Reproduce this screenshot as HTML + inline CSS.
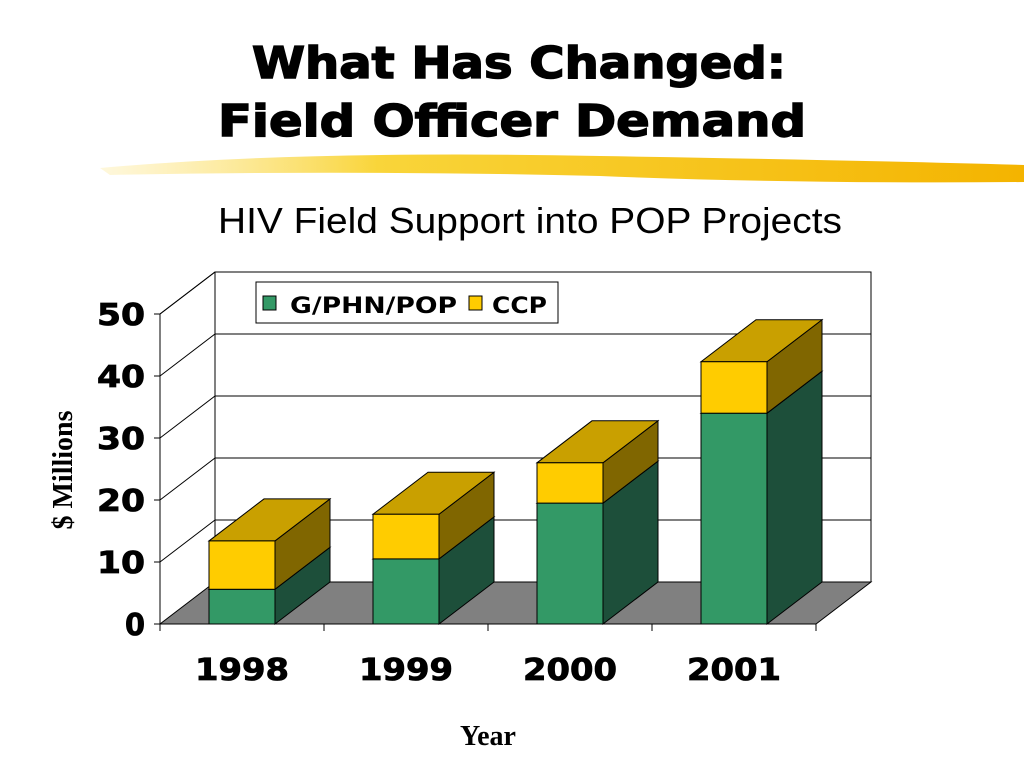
<!DOCTYPE html>
<html><head><meta charset="utf-8"><style>
body{margin:0;width:1024px;height:768px;background:#fff;overflow:hidden;font-family:"Liberation Sans",sans-serif}
</style></head><body>
<svg width="1024" height="768">
<defs><linearGradient id="hl" x1="0" x2="1"><stop offset="0" stop-color="#fde68a" stop-opacity="0.3"/><stop offset="0.3" stop-color="#f9d53a"/><stop offset="1" stop-color="#f4b400"/></linearGradient></defs>
<text x="252" y="78" textLength="534" lengthAdjust="spacingAndGlyphs" font-family="DejaVu Sans" font-weight="bold" font-size="44" stroke="#000" stroke-width="1.5">What Has Changed:</text>
<text x="218" y="136" textLength="588" lengthAdjust="spacingAndGlyphs" font-family="DejaVu Sans" font-weight="bold" font-size="44" stroke="#000" stroke-width="1.5">Field Officer Demand</text>
<path d="M100 168 Q300 150 600 156 Q850 160 1024 165 L1024 182 Q800 184 600 176 Q350 170 110 175 Z" fill="url(#hl)"/>
<text x="218" y="233" textLength="624" lengthAdjust="spacingAndGlyphs" font-size="36">HIV Field Support into POP Projects</text>
<g id="plot"></g>
<text transform="translate(72,470) rotate(-90)" text-anchor="middle" font-family="Liberation Serif" font-weight="bold" font-size="28">$ Millions</text>
<text x="488" y="745" text-anchor="middle" font-family="Liberation Serif" font-weight="bold" font-size="28">Year</text>
<g>
<rect x="256" y="282" width="302" height="41" fill="#fff" stroke="#000"/>
<rect x="263" y="296" width="13" height="14" fill="#339966" stroke="#000"/>
<text x="290" y="313" textLength="167" lengthAdjust="spacingAndGlyphs" font-family="DejaVu Sans" font-weight="bold" font-size="22">G/PHN/POP</text>
<rect x="469" y="296" width="13" height="14" fill="#ffcc00" stroke="#000"/>
<text x="492" y="313" textLength="55" lengthAdjust="spacingAndGlyphs" font-family="DejaVu Sans" font-weight="bold" font-size="22">CCP</text>
</g>
</svg>
<script>
const categories=["1998","1999","2000","2001"];
const gphnpop=[5.6,10.5,19.5,34];
const ccp=[7.8,7.2,6.5,8.3];
const yTicks=[0,10,20,30,40,50];
const NS="http://www.w3.org/2000/svg";
const g=document.getElementById('plot');
const X0=160,X1=816,Y0=624,PX=6.2,DX=55,DY=-42,BW=66;
const y=v=>Y0-v*PX;
const cx=i=>X0+(X1-X0)/categories.length*(i+0.5);
function el(t,a){const e=document.createElementNS(NS,t);for(const k in a)e.setAttribute(k,a[k]);g.appendChild(e);return e;}
let e;
e=el('polygon',{points:`${X0},${Y0} ${X1},${Y0} ${X1+DX},${Y0+DY} ${X0+DX},${Y0+DY}`,fill:'#808080',stroke:'#000'});

e=el('polyline',{points:`${X0},${Y0} ${X0},${y(50)} ${X0+DX},${y(50)+DY} ${X1+DX},${y(50)+DY} ${X1+DX},${Y0+DY}`,fill:'none',stroke:'#000'});

e=el('line',{x1:X0+DX,y1:y(50)+DY,x2:X0+DX,y2:Y0+DY,stroke:'#000'});

yTicks.forEach(t=>{
  if(t>0){e=el('polyline',{points:`${X0},${y(t)} ${X0+DX},${y(t)+DY} ${X1+DX},${y(t)+DY}`,fill:'none',stroke:'#000'});
  }
  e=el('line',{x1:X0-6,y1:y(t),x2:X0,y2:y(t),stroke:'#000'});
  
  const s=String(t);
  const w=s.length===1?20:48;
  e=el('text',{x:145-w,y:y(t)+11,textLength:w,lengthAdjust:'spacingAndGlyphs','font-family':'DejaVu Sans','font-weight':'bold','font-size':'30',stroke:'#000','stroke-width':'0.8'});e.textContent=s;
  
});
for(let i=0;i<=categories.length;i++){const x=X0+(X1-X0)/categories.length*i;
  e=el('line',{x1:x,y1:Y0,x2:x,y2:Y0+7,stroke:'#000'});
  }
function box(x,b,t,front,side,top,name){
  const yb=y(b),yt=y(t);
  e=el('polygon',{points:`${x+BW},${yb} ${x+BW+DX},${yb+DY} ${x+BW+DX},${yt+DY} ${x+BW},${yt}`,fill:side,stroke:'#000'});
  
  e=el('polygon',{points:`${x},${yt} ${x+BW},${yt} ${x+BW+DX},${yt+DY} ${x+DX},${yt+DY}`,fill:top,stroke:'#000'});
  
  e=el('rect',{x:x,y:yt,width:BW,height:yb-yt,fill:front,stroke:'#000'});
  
}
categories.forEach((c,i)=>{
  const x=cx(i)-BW/2;
  box(x,0,gphnpop[i],'#339966','#1d4f3a','#2a7a52','bar-gphnpop-'+c);
  box(x,gphnpop[i],gphnpop[i]+ccp[i],'#ffcc00','#806600','#c9a000','bar-ccp-'+c);
  e=el('text',{x:cx(i)-47,y:680,textLength:94,lengthAdjust:'spacingAndGlyphs','font-family':'DejaVu Sans','font-weight':'bold','font-size':'30',stroke:'#000','stroke-width':'0.8'});e.textContent=c;
  
});
</script>
</body></html>
